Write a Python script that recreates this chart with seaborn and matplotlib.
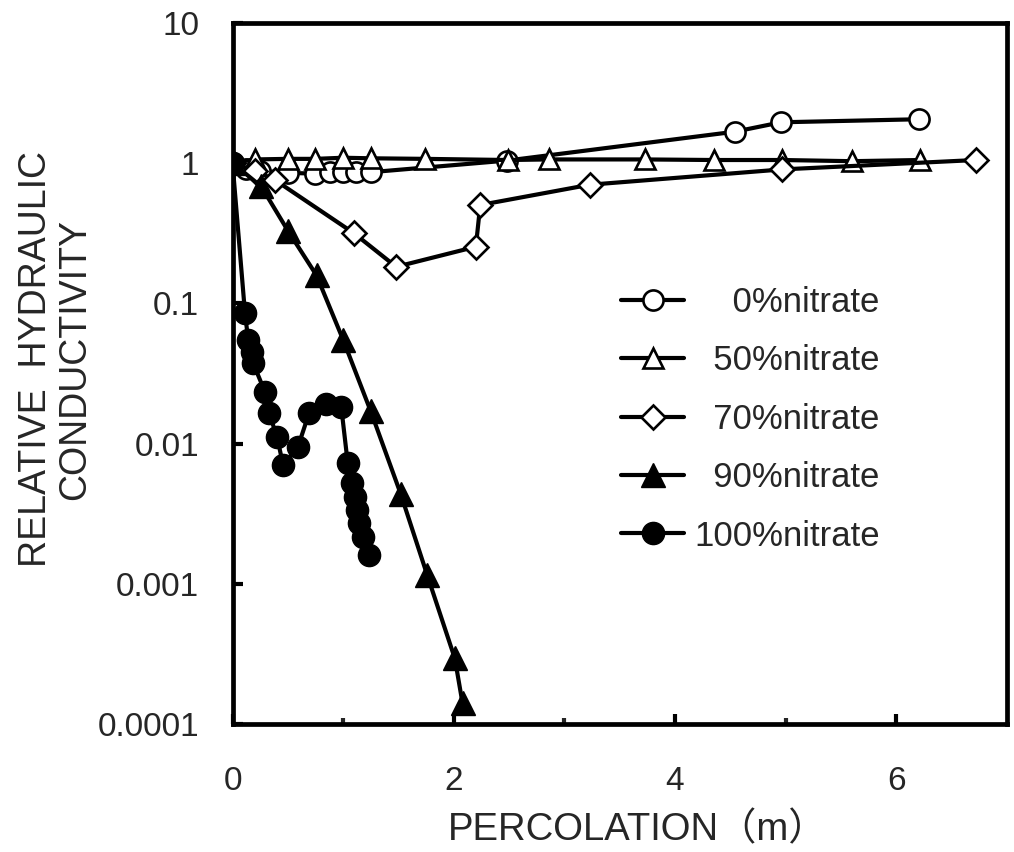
import numpy as np
import pandas as pd
import seaborn as sns
import matplotlib.pyplot as plt
from matplotlib.ticker import FixedLocator, NullLocator

# series
x_0 = [0, 0.12, 0.25, 0.5, 0.75, 0.88, 1.0, 1.12, 1.25, 2.48, 4.54, 4.96, 6.21]
y_0 = [1.0, 0.9, 0.88, 0.85, 0.84, 0.86, 0.86, 0.86, 0.86, 1.04, 1.67, 1.95, 2.05]

x_50 = [0, 0.2, 0.5, 0.75, 1.0, 1.25, 1.74, 2.49, 2.86, 3.73, 4.35, 4.97, 5.6, 6.22]
y_50 = [1.0, 1.06, 1.07, 1.07, 1.09, 1.08, 1.07, 1.05, 1.06, 1.06, 1.05, 1.05, 1.03, 1.05]

x_70 = [0, 0.2, 0.38, 1.1, 1.48, 2.2, 2.24, 3.23, 4.97, 6.72]
y_70 = [1.0, 0.88, 0.76, 0.315, 0.182, 0.253, 0.502, 0.70, 0.90, 1.05]

x_90 = [0, 0.26, 0.5, 0.76, 1.0, 1.25, 1.52, 1.76, 2.01, 2.08]
y_90 = [1.0, 0.68, 0.33, 0.158, 0.055, 0.017, 0.0044, 0.00116, 0.000295, 0.000141]

x_100 = [0, 0.113, 0.142, 0.173, 0.187, 0.293, 0.331, 0.403, 0.457, 0.592, 0.691,
         0.842, 0.983, 1.042, 1.082, 1.103, 1.123, 1.148, 1.177, 1.231]
y_100 = [1.0, 0.0849, 0.0547, 0.0452, 0.0374, 0.0234, 0.0164, 0.0112, 0.00703, 0.0095,
         0.0164, 0.0191, 0.0183, 0.00724, 0.00521, 0.00419, 0.00337, 0.00271, 0.00217, 0.00161]

labels = ['    0%nitrate', '  50%nitrate', '  70%nitrate', '  90%nitrate', '100%nitrate']
x_ticks = [0, 2, 4, 6]
y_ticks = [0.0001, 0.001, 0.01, 0.1, 1, 10]
y_tick_labels = ['0.0001', '0.001', '0.01', '0.1', '1', '10']

sns.set_style('ticks')
plt.rcParams['font.family'] = ['Liberation Sans', 'Noto Sans CJK JP', 'DejaVu Sans']

fig = plt.figure(figsize=(10.14, 8.52), dpi=100)
ax = fig.add_axes([0.2293, 0.1499, 0.7635, 0.8235])

series = [
    (x_0, y_0, dict(marker='o', ms=14.5, mfc='white', mew=1.9)),
    (x_50, y_50, dict(marker='^', ms=14.5, mfc='white', mew=1.9)),
    (x_70, y_70, dict(marker='D', ms=12, mfc='white', mew=1.9)),
    (x_90, y_90, dict(marker='^', ms=17, mfc='black', mew=1)),
    (x_100, y_100, dict(marker='o', ms=16, mfc='black', mew=1)),
]
for (xs, ys, style), lab in zip(series, labels):
    df = pd.DataFrame({'x': xs, 'y': ys})
    sns.lineplot(data=df, x='x', y='y', ax=ax, sort=False, estimator=None,
                 color='black', lw=3, mec='black', label=lab, **style)

ax.set_yscale('log')
ax.set_xlim(0, 7)
ax.set_ylim(0.0001, 10)
ax.xaxis.set_major_locator(FixedLocator(x_ticks))
ax.xaxis.set_minor_locator(FixedLocator([1, 3, 5]))
ax.set_xticklabels([str(t) for t in x_ticks])
ax.yaxis.set_major_locator(FixedLocator(y_ticks))
ax.yaxis.set_minor_locator(NullLocator())
ax.set_yticklabels(y_tick_labels)
ax.tick_params(axis='both', which='major', direction='in', length=7, width=3,
               labelsize=24, color='black')
ax.tick_params(axis='x', which='major', pad=30)
ax.tick_params(axis='y', which='major', pad=24)
ax.tick_params(axis='x', which='minor', direction='in', length=4.5, width=3)
for sp in ax.spines.values():
    sp.set_linewidth(3.4)
    sp.set_color('black')

ax.set_xlabel('PERCOLATION（m）', fontsize=27.5)
ax.xaxis.set_label_coords(0.523, -0.125)
ax.set_ylabel('RELATIVE  HYDRAULIC\nCONDUCTIVITY', fontsize=27, linespacing=1.1)
ax.yaxis.set_label_coords(-0.18, 0.52)

ax.legend(loc='upper left', bbox_to_anchor=(0.462, 0.669), frameon=False,
          fontsize=25, handlelength=1.8, labelspacing=0.73, handletextpad=0.3)

fig.savefig('out.png', dpi=100)
